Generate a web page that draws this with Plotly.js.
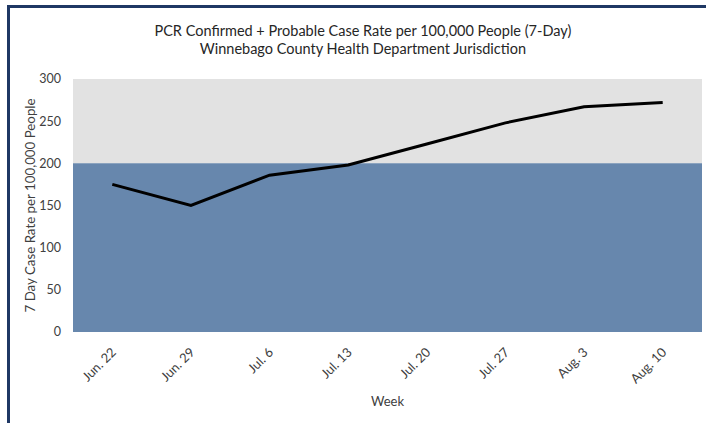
<!DOCTYPE html>
<html>
<head>
<meta charset="utf-8">
<script src="https://cdn.plot.ly/plotly-3.0.1.min.js"></script>
<style>
  html, body { margin: 0; padding: 0; background: #ffffff; }
  #chart { position: absolute; left: 0; top: 0; width: 706px; height: 423px; }
  #frame { position: absolute; left: 7px; top: 5px; width: 699px; height: 418px;
           border-top: 3px solid #1f3864; border-left: 3px solid #1f3864;
           box-sizing: border-box; pointer-events: none; }
</style>
</head>
<body>
<div id="chart"></div>
<div id="frame"></div>
<script>
const weeks = ["Jun. 22", "Jun. 29", "Jul. 6", "Jul. 13", "Jul. 20", "Jul. 27", "Aug. 3", "Aug. 10"];
const caseRate = [175, 150, 186, 198, 223, 248, 267, 272];
const yTicks = [0, 50, 100, 150, 200, 250, 300];
const threshold = 200;
const yMax = 300;

const font = "Lato, 'Open Sans', sans-serif";

const trace = {
  x: weeks,
  y: caseRate,
  type: "scatter",
  mode: "lines",
  line: { color: "#000000", width: 3 },
  hoverinfo: "x+y"
};

const layout = {
  width: 706,
  height: 423,
  margin: { l: 73, r: 4, t: 79, b: 91 },
  paper_bgcolor: "#ffffff",
  plot_bgcolor: "#ffffff",
  showlegend: false,
  font: { family: font, color: "#404040", size: 13 },
  title: {
    text: "PCR Confirmed + Probable Case Rate per 100,000 People (7-Day)<br>Winnebago County Health Department Jurisdiction",
    font: { family: font, size: 14.5, color: "#262626" },
    x: 0.514, xanchor: "center",
    y: 0.916, yanchor: "middle"
  },
  xaxis: {
    type: "category",
    range: [-0.5, weeks.length - 0.5],
    tickangle: -45,
    showgrid: false,
    zeroline: false,
    showline: false,
    ticks: "",
    ticklabelstandoff: 9,
    tickfont: { family: font, size: 13, color: "#404040" },
    title: { text: "Week", font: { family: font, size: 13, color: "#404040" }, standoff: 11 }
  },
  yaxis: {
    range: [0, yMax],
    tickvals: yTicks,
    showgrid: false,
    zeroline: false,
    showline: false,
    ticks: "",
    ticklabelstandoff: 11,
    tickfont: { family: font, size: 12.5, color: "#404040" },
    title: { text: "7 Day Case Rate per 100,000 People", font: { family: font, size: 13.3, color: "#404040" }, standoff: 0 }
  },
  shapes: [
    { type: "rect", xref: "paper", yref: "y", x0: 0, x1: 1, y0: threshold, y1: yMax,
      fillcolor: "#e2e2e2", line: { width: 0 }, layer: "below" },
    { type: "rect", xref: "paper", yref: "y", x0: 0, x1: 1, y0: 0, y1: threshold,
      fillcolor: "#6787ad", line: { width: 0 }, layer: "below" }
  ]
};

Plotly.newPlot("chart", [trace], layout, { displayModeBar: false, staticPlot: true });
</script>
</body>
</html>
